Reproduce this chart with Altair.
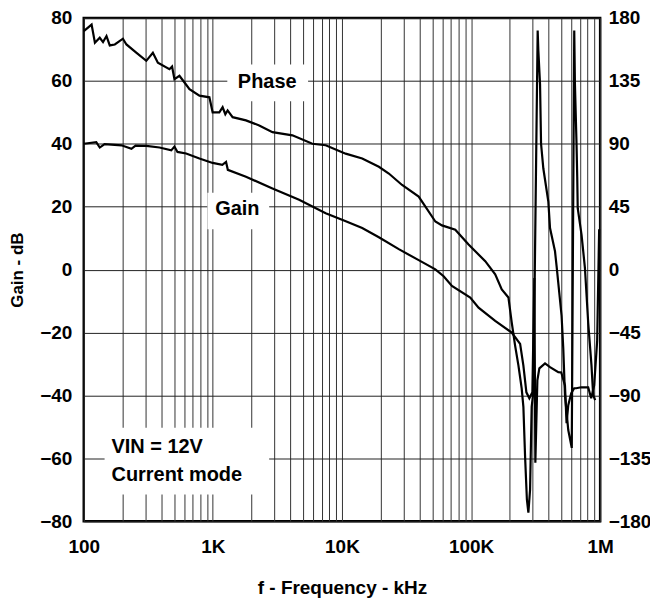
import altair as alt
import pandas as pd

# ---- data ----
gain_freq = [100, 125, 133, 145, 196, 234, 252, 305, 386, 476, 504, 532, 621, 787, 996,
             1184, 1265, 1306, 1805, 2896, 4656, 7482, 10360, 14350, 19310, 27550, 39300,
             52900, 61300, 71100, 98580, 114300, 153800, 206500, 239900, 254300, 268300,
             282900, 298500, 309300, 314800, 326300, 338100, 374100, 408900, 474100,
             499800, 533900, 549400, 566200, 597200, 629900, 652500, 713400, 807700,
             852100, 898900, 948200, 982300]
gain_db = [40.0, 40.5, 38.8, 39.9, 39.5, 38.4, 39.4, 39.3, 38.8, 37.9, 39.1, 37.4, 36.9,
           35.3, 33.9, 33.3, 34.2, 31.7, 29.5, 25.8, 22.2, 17.9, 15.6, 13.2, 10.3, 6.5,
           3.0, 0.1, -2.1, -5.2, -8.9, -12.1, -16.3, -20.0, -23.6, -30.5, -39.0, -40.9,
           -39.0, -2.7, -61.4, -35.2, -31.4, -29.8, -31.0, -32.6, -32.7, -36.8, -48.8,
           -43.1, -39.3, -37.7, -37.7, -37.4, -37.4, -40.9, -36.8, -22.6, 12.8]

phase_freq = [100, 115, 122, 133, 141, 150, 159, 174, 201, 214, 255, 305, 343, 375, 461,
              483, 504, 551, 603, 659, 787, 940, 996, 1122, 1190, 1249, 1301, 1422, 1805,
              2286, 2896, 4131, 5898, 7482, 10680, 14350, 19310, 23070, 29220, 39300,
              52900, 59500, 75500, 95660, 128800, 153800, 172900, 194800, 206500, 219400,
              232700, 246800, 254300, 262100, 270700, 278000, 286500, 294800, 303800,
              328100, 332100, 342300, 348500, 363000, 396800, 408900, 446900, 459800,
              502600, 518100, 533900, 566200, 602500, 629900, 637800, 656100, 664300,
              670300, 717200, 762000, 807700, 856700, 883000, 915000]
phase_deg = [170.6, 175.2, 162.2, 165.8, 162.7, 167.0, 160.3, 161.0, 165.1, 161.0, 155.1,
             149.3, 155.1, 148.0, 143.3, 145.2, 136.2, 138.6, 133.8, 129.1, 124.4, 123.2,
             112.5, 112.5, 116.1, 111.1, 113.8, 109.0, 106.7, 103.1, 98.3, 96.0, 90.0,
             88.9, 82.9, 79.4, 73.5, 68.7, 60.5, 52.2, 34.4, 31.6, 28.5, 17.9, 6.0, -3.4,
             -14.1, -20.0, -37.8, -54.3, -68.5, -85.1, -98.1, -133.6, -164.4, -173.8,
             -157.3, -98.1, -87.7, 171.0, 156.6, 132.6, 90.0, 72.3, 48.6, 29.7, 13.1, 2.5,
             -33.0, -56.7, -89.8, -114.7, -127.5, 171.0, 132.6, 90.0, 66.4, 43.9, 25.0,
             1.3, -37.8, -68.5, -89.8, -93.4]

x_tick_values = [100, 200, 300, 400, 500, 600, 700, 800, 900,
                 1000, 2000, 3000, 4000, 5000, 6000, 7000, 8000, 9000,
                 10000, 20000, 30000, 40000, 50000, 60000, 70000, 80000, 90000,
                 100000, 200000, 300000, 400000, 500000, 600000, 700000, 800000, 900000,
                 1000000]
gain_ticks = [-80, -60, -40, -20, 0, 20, 40, 60, 80]
phase_ticks = [-180, -135, -90, -45, 0, 45, 90, 135, 180]

# annotation boxes / labels (frequency, gain-dB coordinates)
box_f1 = [1294, 907, 145]
box_f2 = [5465, 2730, 2730]
box_g1 = [53.5, 12.8, -71.5]
box_g2 = [65.2, 24.4, -50.3]

label_text = ["Phase", "Gain", "VIN = 12V", "Current mode"]
label_f = [2635, 1546, 164, 164]
label_g = [59.5, 19.1, -56.3, -65.2]
label_align = ["center", "center", "left", "left"]

FONT = "Liberation Sans"
TICK_FS = 19

gdf = pd.DataFrame({"f": gain_freq, "g": gain_db, "i": range(len(gain_freq))})
pdf = pd.DataFrame({"f": phase_freq, "p": phase_deg, "i": range(len(phase_freq))})
bdf = pd.DataFrame({"f1": box_f1, "f2": box_f2, "g1": box_g1, "g2": box_g2})
tdf = pd.DataFrame({"t": label_text, "f": label_f, "g": label_g, "a": label_align})

label_expr = ("datum.value == 100 ? '100' : datum.value == 1000 ? '1K' : "
              "datum.value == 10000 ? '10K' : datum.value == 100000 ? '100K' : "
              "datum.value == 1000000 ? '1M' : ''")

xscale = alt.Scale(type="log", domain=[100, 1000000], nice=False)
gscale = alt.Scale(domain=[-80, 80], nice=False, zero=False)
pscale = alt.Scale(domain=[-180, 180], nice=False, zero=False)

x_enc = alt.X("f:Q", scale=xscale, title="f - Frequency - kHz",
              axis=alt.Axis(values=x_tick_values, labelExpr=label_expr, grid=True,
                            gridColor="#333333", gridWidth=1, ticks=False, domain=False,
                            labelFont=FONT, labelFontWeight="bold", labelFontSize=TICK_FS,
                            labelColor="black", labelPadding=16, labelFlush=False,
                            labelOverlap=False,
                            titleFont=FONT, titleFontWeight="bold", titleFontSize=19,
                            titleColor="black", titlePadding=22))

gain_line = alt.Chart(gdf).mark_line(color="black", strokeWidth=2.2).encode(
    x=x_enc,
    y=alt.Y("g:Q", scale=gscale, title="Gain - dB",
            axis=alt.Axis(values=gain_ticks, grid=True, gridColor="#222222", gridWidth=1,
                          ticks=False, domain=False, labelFont=FONT, labelFontWeight="bold",
                          labelFontSize=TICK_FS, labelColor="black", labelPadding=12,
                          titleFont=FONT, titleFontWeight="bold", titleFontSize=17,
                          titleColor="black", titlePadding=13)),
    order="i:Q",
)

boxes = alt.Chart(bdf).mark_rect(fill="white").encode(
    x=alt.X("f1:Q", scale=xscale), x2="f2:Q",
    y=alt.Y("g1:Q", scale=gscale), y2="g2:Q",
)

labels_c = alt.Chart(tdf[tdf["a"] == "center"]).mark_text(
    font=FONT, fontWeight="bold", fontSize=20, color="black", align="center",
    baseline="middle").encode(
    x=alt.X("f:Q", scale=xscale), y=alt.Y("g:Q", scale=gscale), text="t:N")

labels_l = alt.Chart(tdf[tdf["a"] == "left"]).mark_text(
    font=FONT, fontWeight="bold", fontSize=20, color="black", align="left",
    baseline="middle").encode(
    x=alt.X("f:Q", scale=xscale), y=alt.Y("g:Q", scale=gscale), text="t:N")

left = alt.layer(gain_line, boxes, labels_c, labels_l)

phase_line = alt.Chart(pdf).mark_line(color="black", strokeWidth=2.2).encode(
    x=alt.X("f:Q", scale=xscale),
    y=alt.Y("p:Q", scale=pscale, title=None,
            axis=alt.Axis(orient="right", values=phase_ticks, grid=False, ticks=False,
                          domain=False, labelFont=FONT, labelFontWeight="bold",
                          labelFontSize=TICK_FS, labelColor="black", labelPadding=8)),
    order="i:Q",
)

chart = alt.layer(left, phase_line).resolve_scale(y="independent").properties(
    width=518, height=505,
    autosize=alt.AutoSizeParams(type="none"),
    padding={"left": 76, "top": 9, "right": 50, "bottom": 76},
    background="white",
).configure_view(stroke="black", strokeWidth=2.5)

chart.save("out.html", embed_options={"renderer": "svg", "actions": False})
